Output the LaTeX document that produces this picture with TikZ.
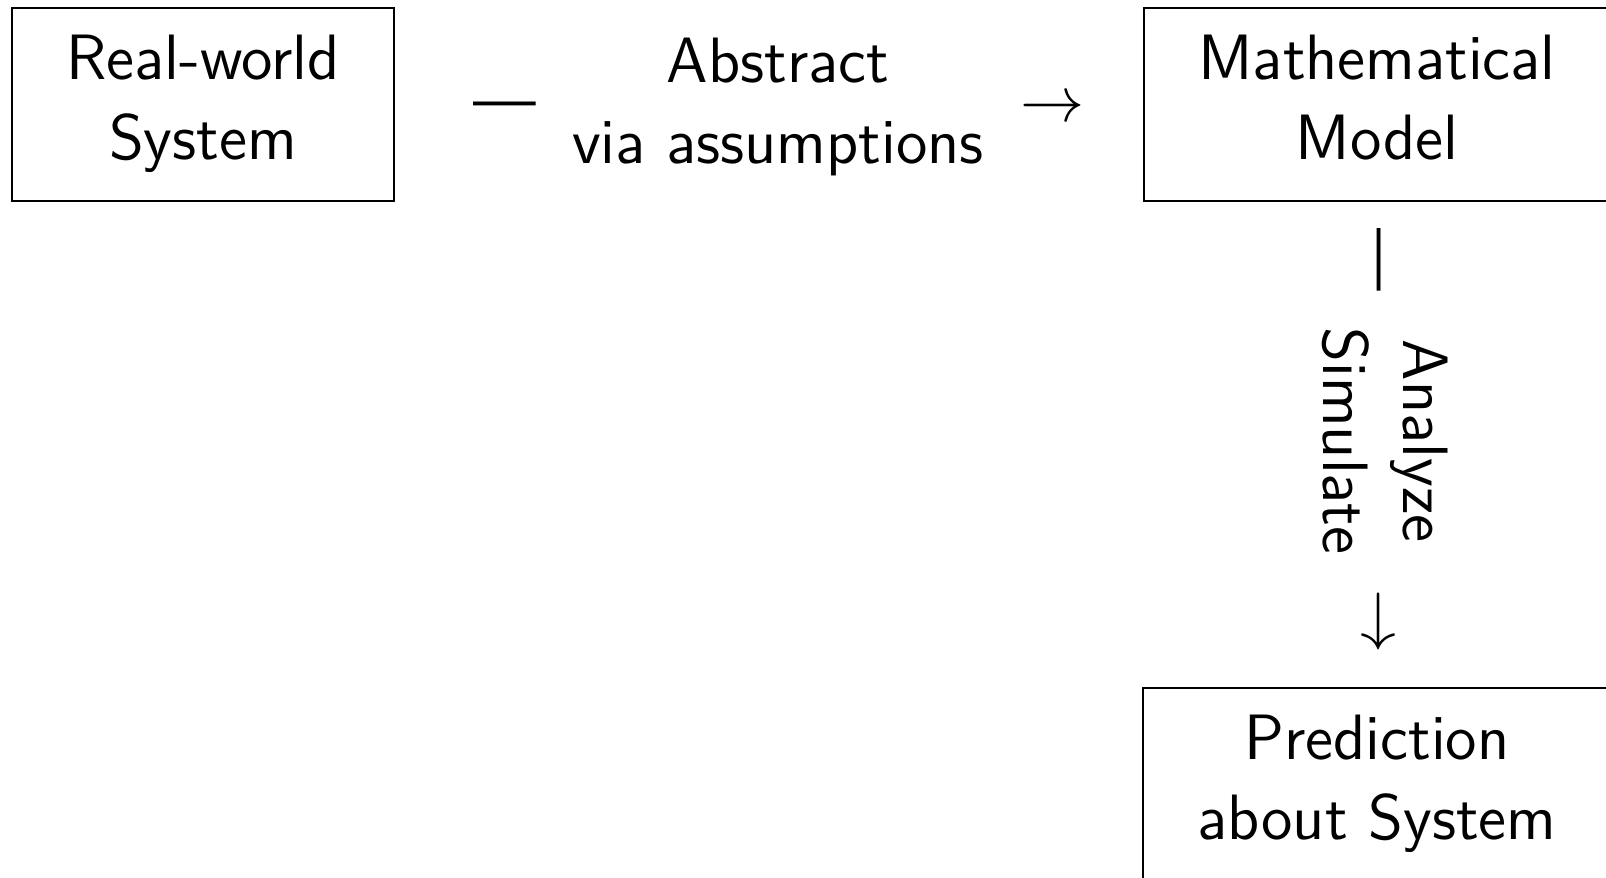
\documentclass[tikz,border=0pt]{standalone}
\newcommand\lastlinedepth{\rule[-3.4pt]{0pt}{3.4pt}}
\begin{document}
\begin{tikzpicture}[
  x=0.2247pt, y=-0.2247pt,
  box/.style={draw, line width=0.5pt, align=center, minimum height=43.37pt,
    inner xsep=12.2pt, font=\sffamily\Large},
  lbl/.style={align=center, inner sep=0pt, font=\sffamily\Large},
  glyph/.style={inner sep=0pt, font=\sffamily\Large},
]
\useasboundingbox (0,0) rectangle (1606,877);

% the three stages
\node[box] (rw) at (203,104.5) {Real-world\\System\lastlinedepth};
\node[box] (mm) at (1377,104.5) {Mathematical\\Model\lastlinedepth};
\node[box] (pr) at (1377,784.5) {Prediction\\about System\lastlinedepth};

% abstraction step, left to right
\node[glyph] (hdash) at (504.5,112) {---};
\node[lbl] (habs) at (778,107) {Abstract\\via assumptions};
\node[glyph] (harr) at (1053,109.6) {$\rightarrow$};

% analysis step, top to bottom
\node[glyph, rotate=-90] (vdash) at (1371.5,259.5) {---};
\node[lbl, rotate=-90] (vana) at (1384.9,441) {Analyze\\Simulate};
\node[glyph, rotate=-90] (varr) at (1374,621.5) {$\rightarrow$};
\end{tikzpicture}
\end{document}
